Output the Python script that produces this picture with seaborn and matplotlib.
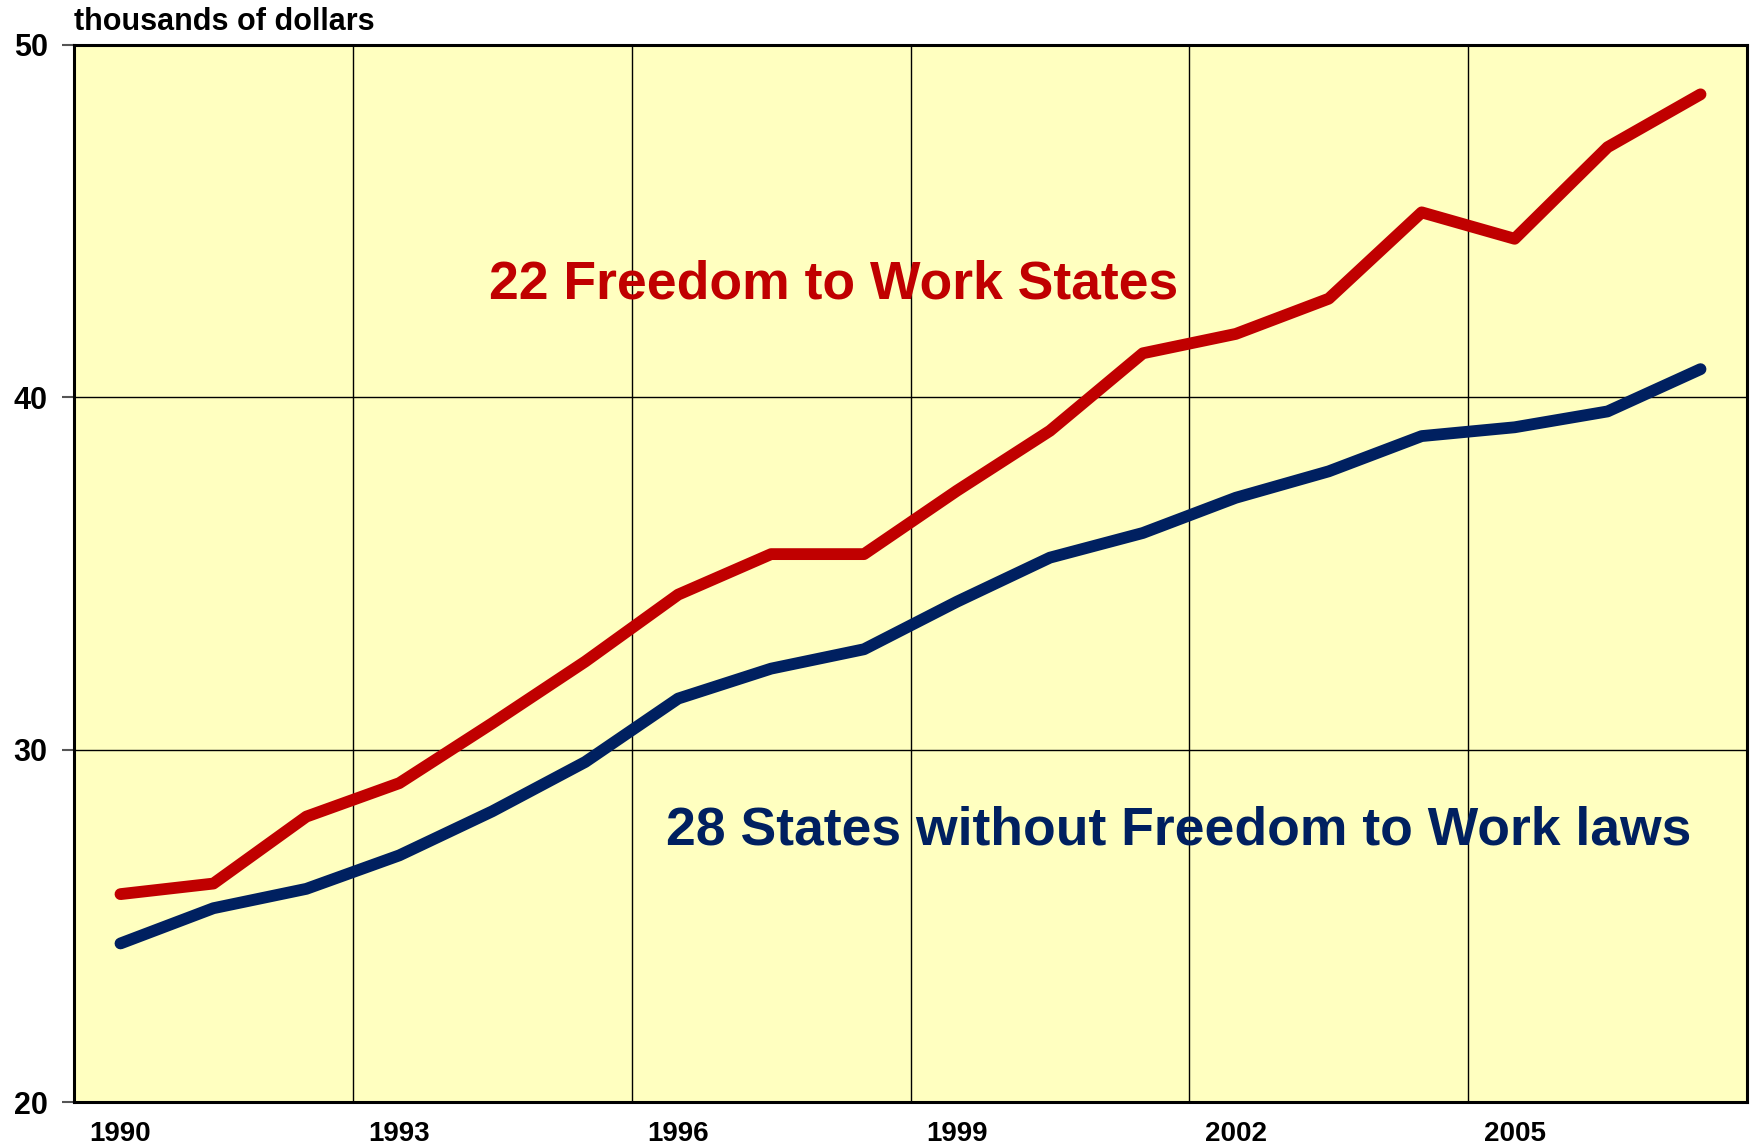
import matplotlib
matplotlib.use("Agg")
import matplotlib.pyplot as plt
import seaborn as sns
import pandas as pd
import numpy as np

years = list(range(1990, 2008))
freedom_states = [25.9, 26.2, 28.1, 29.05, 30.75, 32.5, 34.4, 35.55, 35.55, 37.35,
                  39.05, 41.25, 41.8, 42.8, 45.25, 44.5, 47.1, 48.6]
other_states = [24.5, 25.5, 26.05, 27.0, 28.25, 29.65, 31.45, 32.3, 32.85, 34.2,
                35.45, 36.15, 37.15, 37.9, 38.9, 39.15, 39.6, 40.8]
tick_years = [1990, 1993, 1996, 1999, 2002, 2005]
y_ticks = [20, 30, 40, 50]
red_label = "22 Freedom to Work States"
blue_label = "28 States without Freedom to Work laws"
y_title = "thousands of dollars"

sns.set_theme(style="white")
plt.rcParams['font.family'] = ['Liberation Sans', 'DejaVu Sans']

df = pd.DataFrame({
    "idx": list(range(len(years))) * 2,
    "value": freedom_states + other_states,
    "group": ["red"] * len(years) + ["blue"] * len(years),
})

fig = plt.figure(figsize=(17.54, 11.45), dpi=100)
ax = fig.add_axes([74 / 1754, 43 / 1145, (1747 - 74) / 1754, (1102 - 45) / 1145])
ax.set_facecolor("#FFFFC0")

sns.lineplot(data=df, x="idx", y="value", hue="group",
             palette={"red": "#C00000", "blue": "#002060"},
             linewidth=8.5, ax=ax, legend=False, zorder=3,
             solid_capstyle="round", solid_joinstyle="round")

n = len(years)
ax.set_xlim(-0.5, n - 0.5)
ax.set_ylim(20, 50)
ax.set_xticks([years.index(y) for y in tick_years])
ax.set_xticklabels([str(y) for y in tick_years], fontsize=20, fontweight="bold", color="black")
ax.set_yticks(y_ticks)
ax.set_yticklabels([str(v) for v in y_ticks], fontsize=22, fontweight="bold", color="black")
ax.tick_params(axis="x", length=0, pad=14)
ax.tick_params(axis="y", length=9, width=1.5, color="#555555", direction="out", pad=10, left=True)
ax.set_xlabel("")
ax.set_ylabel("")

for b in [2.5, 5.5, 8.5, 11.5, 14.5]:
    ax.axvline(b, color="black", linewidth=1, zorder=1)
for v in [30, 40]:
    ax.axhline(v, color="black", linewidth=1, zorder=1)

for s in ax.spines.values():
    s.set_color("black")
    s.set_linewidth(2.2)
    s.set_visible(True)

ax.text(3.97, 43.2, red_label, color="#C00000", fontsize=38.5, fontweight="bold",
        va="center", ha="left", zorder=4)
ax.text(5.87, 27.7, blue_label, color="#002060", fontsize=38.5, fontweight="bold",
        va="center", ha="left", zorder=4)

fig.text(74 / 1754, 1 - 22 / 1145, y_title, fontsize=22, fontweight="bold",
         va="center", ha="left", color="black")

fig.savefig("out.png", dpi=100)
